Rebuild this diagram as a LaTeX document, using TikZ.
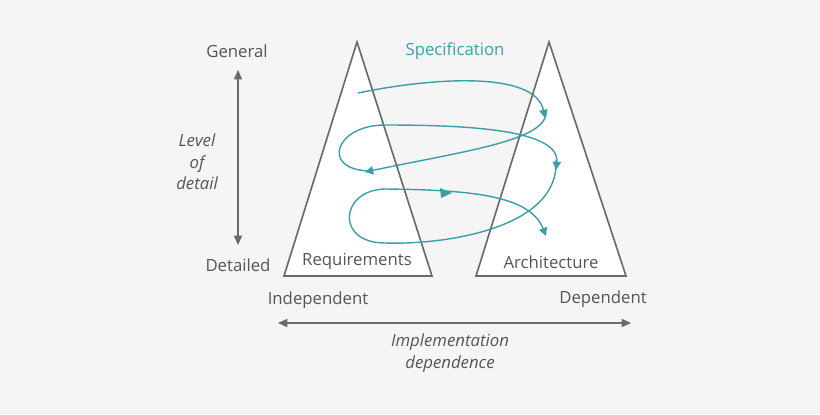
\documentclass[tikz,border=0pt]{standalone}
\usepackage{fontspec}
\setmainfont{Open Sans}
\usetikzlibrary{arrows.meta,decorations.markings}
\definecolor{bgc}{HTML}{F5F5F5}
\definecolor{txt}{HTML}{555555}
\definecolor{edge}{HTML}{6A6A6A}
\definecolor{teal}{HTML}{3AA0A8}
\tikzset{
  tri/.style={draw=edge, line width=1.4pt, fill=white},
  flow/.style={draw=teal, line width=1.2pt, -{Triangle[length=7pt,width=7pt]}},
  axis/.style={draw=edge, line width=0.9pt, {Triangle[length=8pt,width=7pt]}-{Triangle[length=8pt,width=7pt]}},
  lbl/.style={text=txt, font=\fontsize{14.3pt}{16pt}\selectfont},
  lbli/.style={lbl, font=\fontsize{14.3pt}{18.5pt}\selectfont\itshape, align=center}
}
\begin{document}
\begin{tikzpicture}[x=0.03cm,y=-0.03cm]
    % Background
    \fill[bgc] (0,0) rectangle (820,414);
    \useasboundingbox (0,0) rectangle (820,414);

    % Triangles
    \draw[tri] (357,42) -- (432,276) -- (284,276) -- cycle;
    \draw[tri] (549,42) -- (626,276) -- (476,276) -- cycle;
    \node[lbl] (req) at (357,261) {Requirements};
    \node[lbl] (arch) at (551,262) {Architecture};

    % Spiral
    \draw[flow] (358,93) .. controls (430,78) and (535,70) .. (545,118);
    \draw[flow] (546,110) .. controls (550,140) and (470,150) .. (365,172);
    \draw[flow] (370,171) .. controls (320,170) and (335,125) .. (385,125)
                .. controls (470,125) and (560,130) .. (556,170);
    \draw[flow] (556,160) .. controls (560,230) and (440,245) .. (385,243)
                .. controls (335,243) and (340,190) .. (385,189)
                .. controls (470,190) and (530,195) .. (546,236);
    \fill[teal] (452,193) -- (440,188) -- (441,198) -- cycle;

    % Axes
    \node[lbl] (gen) at (237,51) {General};
    \node[lbl] (det) at (238,265) {Detailed};
    \draw[axis] (238,70) -- (238,245);
    \node[lbli] (lod) at (197,162) {Level\\of\\detail};
    \node[lbl] (ind) at (318,300) {Independent};
    \node[lbl] (dep) at (603,299) {Dependent};
    \draw[axis] (278,323) -- (631,323);
    \node[lbli] (imp) at (450,353) {Implementation\\dependence};
    \node[lbl, text=teal] (spec) at (455,51) {Specification};
\end{tikzpicture}
\end{document}
